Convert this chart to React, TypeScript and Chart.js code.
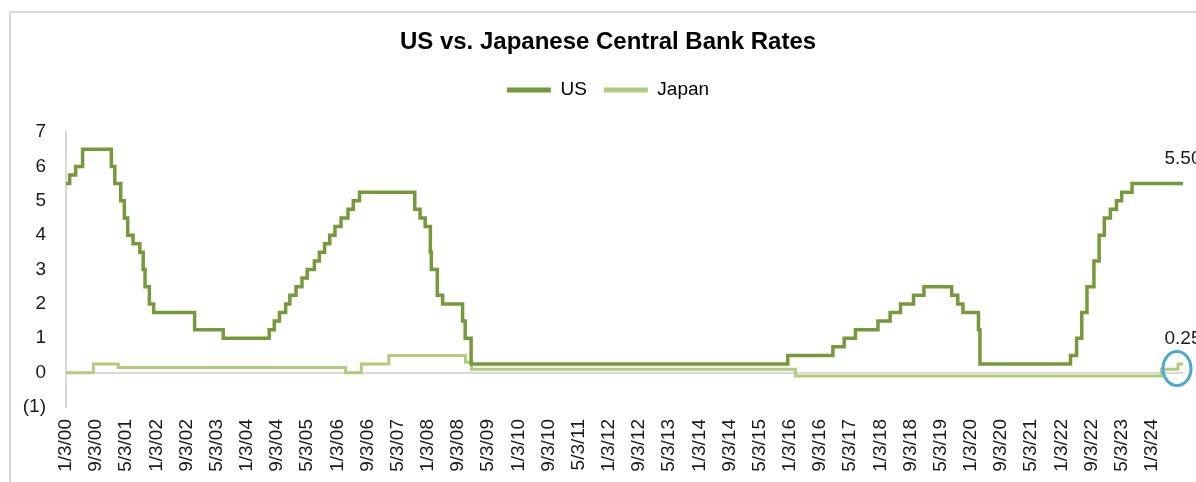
import React, { useEffect, useRef } from 'react';
import { Chart, registerables } from 'chart.js';

Chart.register(...registerables);

// ---- Data ----
const seriesNames = ['US', 'Japan'];

// Policy-rate change dates and the new rate from that date on
const usDates = [
  '2000-01-03', '2000-02-02', '2000-03-21', '2000-05-16',
  '2001-01-03', '2001-01-31', '2001-03-20', '2001-04-18', '2001-05-15', '2001-06-27',
  '2001-08-21', '2001-09-17', '2001-10-02', '2001-11-06', '2001-12-11',
  '2002-11-06', '2003-06-25',
  '2004-06-30', '2004-08-10', '2004-09-21', '2004-11-10', '2004-12-14',
  '2005-02-02', '2005-03-22', '2005-05-03', '2005-06-30', '2005-08-09', '2005-09-20',
  '2005-11-01', '2005-12-13',
  '2006-01-31', '2006-03-28', '2006-05-10', '2006-06-29',
  '2007-09-18', '2007-10-31', '2007-12-11',
  '2008-01-22', '2008-01-30', '2008-03-18', '2008-04-30', '2008-10-08', '2008-10-29', '2008-12-16',
  '2015-12-16', '2016-12-14',
  '2017-03-15', '2017-06-14', '2017-12-13',
  '2018-03-21', '2018-06-13', '2018-09-26', '2018-12-19',
  '2019-07-31', '2019-09-18', '2019-10-30',
  '2020-03-03', '2020-03-15',
  '2022-03-16', '2022-05-04', '2022-06-15', '2022-07-27', '2022-09-21', '2022-11-02', '2022-12-14',
  '2023-02-01', '2023-03-22', '2023-05-03', '2023-07-26',
];
const usRates = [
  5.5, 5.75, 6.0, 6.5,
  6.0, 5.5, 5.0, 4.5, 4.0, 3.75,
  3.5, 3.0, 2.5, 2.0, 1.75,
  1.25, 1.0,
  1.25, 1.5, 1.75, 2.0, 2.25,
  2.5, 2.75, 3.0, 3.25, 3.5, 3.75,
  4.0, 4.25,
  4.5, 4.75, 5.0, 5.25,
  4.75, 4.5, 4.25,
  3.5, 3.0, 2.25, 2.0, 1.5, 1.0, 0.25,
  0.5, 0.75,
  1.0, 1.25, 1.5,
  1.75, 2.0, 2.25, 2.5,
  2.25, 2.0, 1.75,
  1.25, 0.25,
  0.5, 1.0, 1.75, 2.5, 3.25, 4.0, 4.5,
  4.75, 5.0, 5.25, 5.5,
];

const japanDates = [
  '2000-01-03', '2000-08-11', '2001-02-28', '2006-03-09', '2006-07-14',
  '2007-02-21', '2008-10-31', '2008-12-19', '2016-02-16', '2024-03-19', '2024-07-31',
];
const japanRates = [0.0, 0.25, 0.15, 0.0, 0.25, 0.5, 0.3, 0.1, -0.1, 0.1, 0.25];

const endDate = '2024-09-09';

const xTickLabels = [
  '1/3/00', '9/3/00', '5/3/01', '1/3/02', '9/3/02', '5/3/03', '1/3/04', '9/3/04',
  '5/3/05', '1/3/06', '9/3/06', '5/3/07', '1/3/08', '9/3/08', '5/3/09', '1/3/10',
  '9/3/10', '5/3/11', '1/3/12', '9/3/12', '5/3/13', '1/3/14', '9/3/14', '5/3/15',
  '1/3/16', '9/3/16', '5/3/17', '1/3/18', '9/3/18', '5/3/19', '1/3/20', '9/3/20',
  '5/3/21', '1/3/22', '9/3/22', '5/3/23', '1/3/24',
];
const yTickValues = [-1, 0, 1, 2, 3, 4, 5, 6, 7];
const yTickLabels = ['(1)', '0', '1', '2', '3', '4', '5', '6', '7'];

// ---- Helpers ----
const DAY = 86400000;
const ORIGIN = Date.UTC(2000, 0, 3);
const isoToDay = (s: string) => {
  const [y, m, d] = s.split('-').map(Number);
  return Math.round((Date.UTC(y, m - 1, d) - ORIGIN) / DAY);
};
const labelToDay = (s: string) => {
  const [m, d, yy] = s.split('/').map(Number);
  return Math.round((Date.UTC(2000 + yy, m - 1, d) - ORIGIN) / DAY);
};
const toSteps = (dates: string[], rates: number[]) => {
  const pts = dates.map((d, i) => ({ x: isoToDay(d), y: rates[i] }));
  pts.push({ x: isoToDay(endDate), y: rates[rates.length - 1] });
  return pts;
};

const FONT = '"Liberation Sans", Arial, Helvetica, sans-serif';
const US_COLOR = '#76993c';
const JP_COLOR = '#afcb7c';
const GRAY = '#d9d9d9';
const TEXT = '#1a1a1a';

const endLabels = {
  id: 'endLabels',
  afterDatasetsDraw(chart: any) {
    const ctx = chart.ctx;
    ctx.save();
    ctx.font = `19px ${FONT}`;
    ctx.fillStyle = TEXT;
    ctx.textAlign = 'center';
    ctx.textBaseline = 'middle';
    chart.data.datasets.forEach((ds: any, i: number) => {
      const meta = chart.getDatasetMeta(i);
      const pt = meta.data[meta.data.length - 1];
      const v = ds.data[ds.data.length - 1].y;
      ctx.fillText(v.toFixed(2), pt.x, pt.y - 25);
    });
    const jm = chart.getDatasetMeta(1);
    const jp = jm.data[jm.data.length - 1];
    ctx.beginPath();
    ctx.ellipse(jp.x - 6, jp.y + 4.5, 14, 17, 0, 0, Math.PI * 2);
    ctx.strokeStyle = '#4aa9d3';
    ctx.lineWidth = 3;
    ctx.stroke();
    ctx.restore();
  },
};

const legendSpacer = {
  id: 'legendSpacer',
  beforeInit(chart: any) {
    const legend = chart.legend;
    if (!legend) return;
    const orig = legend.fit;
    legend.fit = function () {
      orig.call(this);
      this.height += 22.5;
    };
  },
};

export default function App() {
  const ref = useRef<HTMLCanvasElement | null>(null);

  useEffect(() => {
    document.body.style.margin = '0';
    const canvas = ref.current;
    if (!canvas) return;
    const defaultLabels = (Chart as any).defaults.plugins.legend.labels.generateLabels;
    const chart = new Chart(canvas, {
      type: 'line',
      data: {
        datasets: [
          {
            label: seriesNames[0],
            data: toSteps(usDates, usRates),
            borderColor: US_COLOR,
            backgroundColor: US_COLOR,
            borderWidth: 3.5,
            stepped: 'before',
            pointRadius: 0,
            pointHoverRadius: 0,
          },
          {
            label: seriesNames[1],
            data: toSteps(japanDates, japanRates),
            borderColor: JP_COLOR,
            backgroundColor: JP_COLOR,
            borderWidth: 3,
            stepped: 'before',
            pointRadius: 0,
            pointHoverRadius: 0,
          },
        ],
      },
      options: {
        responsive: false,
        animation: false,
        devicePixelRatio: 1,
        layout: { padding: { left: 0, right: 0, top: 0, bottom: 0 } },
        events: [],
        plugins: {
          tooltip: { enabled: false },
          title: {
            display: true,
            text: 'US vs. Japanese Central Bank Rates',
            color: '#000',
            font: { family: FONT, size: 24, weight: 'bold' },
            padding: { top: 28, bottom: 6.7 },
          },
          legend: {
            display: true,
            labels: {
              color: '#000',
              font: { family: FONT, size: 19 },
              boxWidth: 44,
              boxHeight: 5,
              padding: 17,
              generateLabels: (c: any) =>
                defaultLabels(c).map((it: any) => ({ ...it, lineWidth: 0 })),
            },
          },
        },
        scales: {
          x: {
            type: 'linear',
            min: 0,
            max: isoToDay(endDate),
            grid: { display: false, drawTicks: false },
            border: { display: false },
            afterBuildTicks: (axis: any) => {
              axis.ticks = xTickLabels.map((l) => ({ value: labelToDay(l) }));
            },
            ticks: {
              autoSkip: false,
              maxRotation: 90,
              minRotation: 90,
              padding: 12,
              color: TEXT,
              font: { family: FONT, size: 19 },
              callback: (v: any) => {
                const idx = xTickLabels.findIndex((l) => labelToDay(l) === v);
                return idx >= 0 ? xTickLabels[idx] : '';
              },
            },
            afterFit: (s: any) => {
              s.height = 75;
            },
          },
          y: {
            min: -1,
            max: 7,
            afterBuildTicks: (axis: any) => {
              axis.ticks = yTickValues.map((v) => ({ value: v }));
            },
            grid: {
              drawTicks: false,
              lineWidth: 2,
              color: (c: any) => (c.tick && c.tick.value === 0 ? GRAY : 'rgba(0,0,0,0)'),
            },
            border: { display: true, color: GRAY, width: 2 },
            ticks: {
              padding: 20,
              color: TEXT,
              font: { family: FONT, size: 19 },
              callback: (v: any) => {
                const idx = yTickValues.indexOf(v);
                return idx >= 0 ? yTickLabels[idx] : '';
              },
            },
            afterFit: (s: any) => {
              s.width = 66;
            },
          },
          y2: {
            position: 'right',
            display: true,
            grid: { display: false, drawTicks: false },
            border: { display: false },
            ticks: { display: false },
            afterFit: (s: any) => {
              s.width = 33;
            },
          },
        },
      },
      plugins: [endLabels, legendSpacer],
    } as any);
    return () => chart.destroy();
  }, []);

  return (
    <div style={{ position: 'relative', width: 1196, height: 482, overflow: 'hidden', background: '#fff' }}>
      <div
        style={{
          position: 'absolute',
          left: 9,
          top: 11,
          width: 1400,
          height: 700,
          borderTop: `2px solid ${GRAY}`,
          borderLeft: `2px solid ${GRAY}`,
          boxSizing: 'border-box',
        }}
      />
      <canvas
        ref={ref}
        width={1216}
        height={482}
        style={{ position: 'absolute', left: 0, top: 0, width: 1216, height: 482 }}
      />
    </div>
  );
}
